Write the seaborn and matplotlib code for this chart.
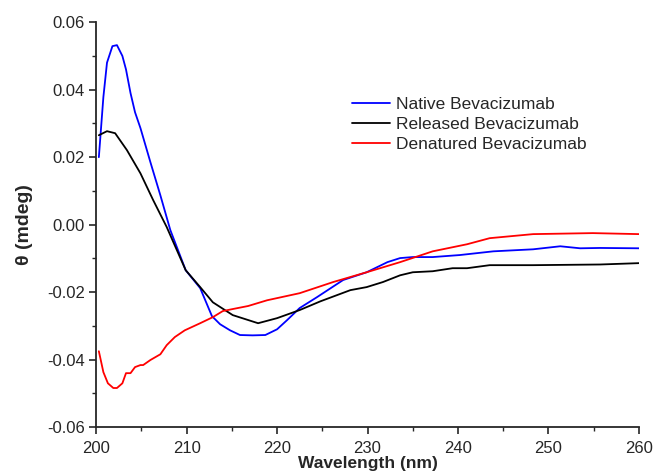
import matplotlib
matplotlib.use("Agg")
import matplotlib.pyplot as plt
import seaborn as sns
import numpy as np
import pandas as pd
from matplotlib.ticker import MultipleLocator

# values
native_wl = [200.3, 200.8, 201.2, 201.8, 202.3, 202.9, 203.3, 203.8, 204.3, 204.9, 206.0,
             207.1, 208.2, 209.9, 211.5, 212.8, 213.7, 214.8, 215.9, 217.3, 218.7, 220.0,
             221.1, 222.5, 224.4, 227.3, 229.9, 232.2, 233.6, 235.0, 237.2, 240.2, 243.9,
             248.3, 251.3, 253.5, 255.7, 260.0]
native_theta = [0.0200, 0.0378, 0.0480, 0.0529, 0.0532, 0.0500, 0.0460, 0.0390, 0.0333, 0.0286,
                0.0185, 0.0087, -0.0016, -0.0135, -0.0188, -0.0271, -0.0295, -0.0313, -0.0327,
                -0.0328, -0.0327, -0.0310, -0.0283, -0.0247, -0.0215, -0.0164, -0.0141, -0.0111,
                -0.0099, -0.0096, -0.0096, -0.0090, -0.0079, -0.0073, -0.0064, -0.0070, -0.0069,
                -0.0070]

released_wl = [200.3, 201.2, 202.1, 203.4, 204.9, 206.3, 207.8, 209.9, 211.5, 212.9, 215.1,
               217.9, 220.0, 222.5, 224.8, 228.1, 229.9, 231.7, 233.6, 235.0, 237.2, 239.4,
               241.0, 243.5, 248.3, 255.7, 260.0]
released_theta = [0.0265, 0.0277, 0.0271, 0.0221, 0.0152, 0.0073, -0.0007, -0.0135, -0.0185,
                  -0.0230, -0.0268, -0.0292, -0.0277, -0.0253, -0.0227, -0.0194, -0.0185,
                  -0.0170, -0.0150, -0.0141, -0.0138, -0.0129, -0.0129, -0.0120, -0.0120,
                  -0.0118, -0.0114]

denatured_wl = [200.3, 200.8, 201.3, 201.9, 202.3, 202.9, 203.3, 203.8, 204.3, 204.9, 205.2,
                206.0, 207.1, 207.8, 208.7, 209.8, 211.5, 212.9, 214.0, 215.1, 216.8, 218.9,
                222.5, 226.2, 229.9, 233.6, 237.2, 241.0, 243.5, 248.3, 254.9, 260.0]
denatured_theta = [-0.0375, -0.0437, -0.0470, -0.0484, -0.0484, -0.0470, -0.0440, -0.0440,
                   -0.0422, -0.0416, -0.0416, -0.0401, -0.0384, -0.0357, -0.0333, -0.0313,
                   -0.0292, -0.0274, -0.0256, -0.0250, -0.0241, -0.0224, -0.0203, -0.0170,
                   -0.0141, -0.0111, -0.0079, -0.0058, -0.0040, -0.0028, -0.0025, -0.0028]

labels = ["Native Bevacizumab", "Released Bevacizumab", "Denatured Bevacizumab"]
colors = ["#0000ff", "#000000", "#ff0000"]

df = pd.concat([
    pd.DataFrame({"wavelength": native_wl, "theta": native_theta, "sample": labels[0]}),
    pd.DataFrame({"wavelength": released_wl, "theta": released_theta, "sample": labels[1]}),
    pd.DataFrame({"wavelength": denatured_wl, "theta": denatured_theta, "sample": labels[2]}),
], ignore_index=True)

sns.set_style("ticks")
plt.rcParams["font.family"] = ["Liberation Sans", "DejaVu Sans"]

fig = plt.figure(figsize=(6.54, 4.72), dpi=100)
ax = fig.add_axes([0.147, 0.095, 0.83, 0.858])

sns.lineplot(data=df, x="wavelength", y="theta", hue="sample", hue_order=labels,
             palette=colors, estimator=None, sort=False, linewidth=1.3, ax=ax)

ax.set_xlim(200, 260)
ax.set_ylim(-0.06, 0.06)
ax.xaxis.set_major_locator(MultipleLocator(10))
ax.xaxis.set_minor_locator(MultipleLocator(5))
ax.yaxis.set_major_locator(MultipleLocator(0.02))
ax.yaxis.set_minor_locator(MultipleLocator(0.01))
ax.yaxis.set_major_formatter(plt.FormatStrFormatter("%.2f"))
ax.tick_params(which="major", length=5, width=1.2, labelsize=12, direction="out", pad=3)
ax.tick_params(axis="x", which="major", pad=5)
ax.tick_params(which="minor", length=3, width=1.0, direction="out")
for side in ["top", "right"]:
    ax.spines[side].set_visible(False)
for side in ["left", "bottom"]:
    ax.spines[side].set_linewidth(1.3)

ax.set_xlabel("Wavelength (nm)", fontsize=12.5, fontweight="bold", labelpad=0)
ax.set_ylabel("θ (mdeg)", fontsize=14, fontweight="bold", labelpad=10)

ax.legend(loc="upper left", bbox_to_anchor=(0.443, 0.855), frameon=False,
          fontsize=12.5, handlelength=2.2, handletextpad=0.3, labelspacing=0.3)

fig.savefig("out.png", dpi=100)
